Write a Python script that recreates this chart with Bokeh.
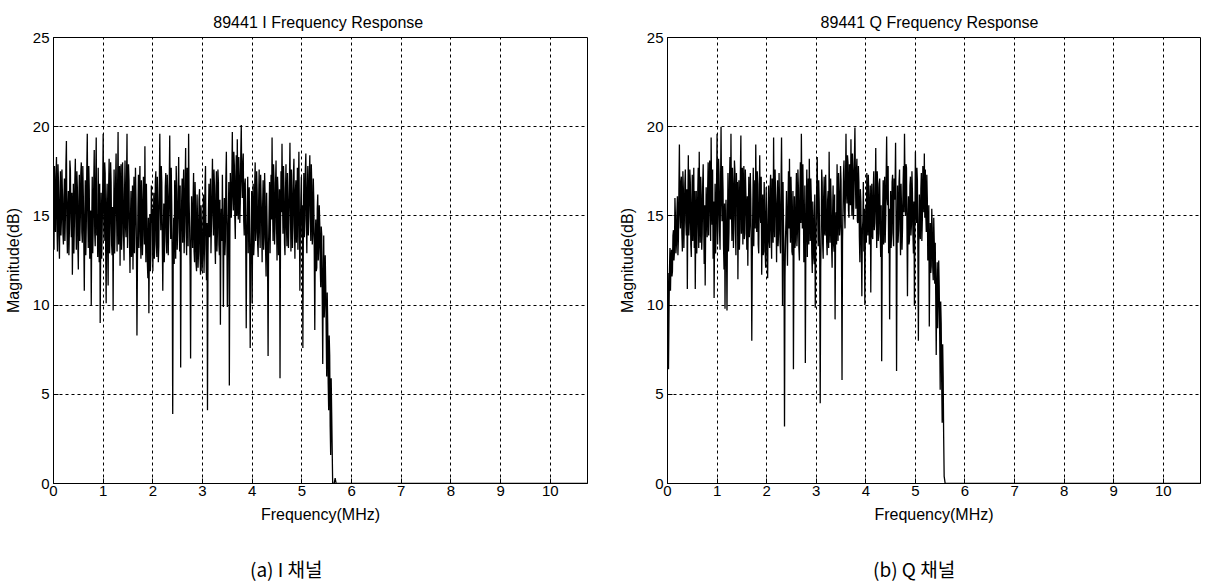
from bokeh.plotting import figure
from bokeh.layouts import row, column
from bokeh.models import Range1d, FixedTicker, Div, Spacer
from bokeh.embed import file_html
from bokeh.resources import INLINE

# ---------------- data ----------------
STEP_MHZ = 0.02  # spacing of the main samples; the "mid" samples lie half-way between

i_mag_db = [
    15.2, 17.8, 14.1, 18.3, 13.0, 16.9, 12.6, 17.5, 14.8, 16.2,
    13.4, 17.1, 15.0, 19.2, 12.9, 16.4, 14.2, 17.6, 13.8, 11.7,
    16.8, 14.5, 18.2, 13.1, 16.6, 12.0, 17.3, 14.9, 18.0, 13.5,
    16.2, 10.8, 17.0, 14.4, 19.6, 13.2, 16.5, 14.0, 10.0, 17.2,
    14.6, 18.7, 13.3, 19.4, 15.1, 17.7, 12.4, 9.0, 16.3, 14.2,
    19.6, 13.6, 17.4, 10.1, 16.8, 11.1, 18.2, 14.5, 16.9, 12.8,
    9.7, 17.6, 14.3, 18.5, 13.0, 19.7, 15.6, 12.2, 17.9, 14.0,
    16.6, 12.5, 18.1, 13.8, 19.6, 14.9, 17.0, 11.8, 16.4, 13.5,
    12.0, 17.2, 14.8, 16.0, 8.3, 15.5, 13.2, 17.8, 12.6, 15.9,
    13.9, 16.5, 18.9, 12.4, 14.7, 11.5, 9.55, 15.1, 12.8, 14.6,
    11.9, 16.3, 13.4, 17.5, 12.7, 15.8, 13.3, 19.6, 14.2, 16.9,
    10.8, 15.7, 13.6, 17.4, 12.9, 16.1, 14.8, 19.5, 13.7, 15.6,
    3.9, 14.9, 17.0, 12.6, 16.4, 14.1, 18.3, 13.0, 6.5, 15.8,
    13.5, 17.6, 14.7, 18.8, 12.8, 16.9, 19.6, 14.4, 7.0, 16.1,
    13.2, 17.4, 12.4, 15.6, 11.9, 14.8, 13.0, 16.5, 11.7, 14.1,
    12.6, 16.2, 13.4, 17.8, 11.4, 4.1, 15.3, 13.8, 17.1, 14.6,
    18.2, 13.9, 16.7, 12.3, 17.5, 14.0, 16.9, 12.8, 8.9, 15.4,
    17.3, 9.9, 16.0, 13.6, 18.6, 9.9, 15.1, 5.5, 17.4, 14.9,
    19.7, 15.3, 17.9, 13.7, 18.4, 19.3, 14.8, 17.2, 15.7, 20.1,
    16.0, 18.5, 13.9, 17.1, 8.7, 15.5, 12.9, 16.6, 7.6, 14.2,
    10.1, 16.8, 13.5, 18.0, 14.1, 16.3, 12.7, 17.6, 13.2, 15.9,
    12.4, 17.0, 13.8, 16.1, 11.6, 14.5, 7.15, 15.2, 12.9, 17.3,
    19.4, 13.6, 16.9, 14.3, 18.1, 12.5, 16.4, 13.9, 5.9, 17.5,
    19.05, 14.0, 16.6, 12.8, 17.9, 13.3, 15.8, 14.7, 19.1, 13.0,
    16.3, 14.4, 18.2, 12.6, 17.0, 15.2, 13.1, 18.6, 10.8, 16.0,
    13.8, 7.6, 17.4, 14.9, 18.5, 12.9, 17.8, 15.3, 18.4, 13.6,
    16.7, 14.0, 15.9, 8.6, 14.8, 12.1, 16.2, 13.3, 14.6, 11.0,
    13.9, 6.7, 13.9, 10.2, 11.1, 6.0, 9.0, 4.1, 7.2, 1.6,
    4.0,
]
i_mid_db = [
    13.1, 15.6, 17.2, 14.5, 17.9, 13.8, 16.0, 13.9, 17.6, 14.0,
    16.0, 13.6, 17.9, 14.3, 15.5, 12.8, 18.1, 14.9, 16.3, 14.4,
    12.9, 17.0, 14.8, 17.5, 13.4, 15.8, 13.6, 17.4, 14.1, 17.8,
    13.7, 14.9, 12.8, 17.6, 15.0, 17.8, 12.6, 15.3, 14.4, 12.9,
    16.8, 14.0, 17.1, 13.9, 12.7, 14.6, 16.8, 13.5, 12.6, 16.4,
    15.4, 18.0, 13.2, 15.7, 13.3, 16.6, 12.9, 18.0, 13.4, 15.5,
    14.8, 12.9, 16.9, 15.1, 16.4, 13.4, 17.8, 16.1, 13.1, 18.0,
    14.0, 16.2, 14.4, 17.0, 13.2, 17.9, 13.6, 14.9, 12.7, 16.7,
    15.3, 12.9, 17.7, 13.1, 12.4, 17.3, 16.4, 14.0, 17.0, 12.8,
    17.2, 13.4, 14.6, 16.8, 12.3, 14.9, 13.3, 11.9, 16.7, 15.4,
    14.1, 12.6, 16.9, 13.6, 17.2, 12.4, 16.5, 15.9, 17.8, 13.6,
    13.9, 12.4, 16.6, 14.0, 17.3, 12.8, 16.9, 15.2, 17.7, 12.5,
    12.8, 12.3, 14.6, 17.8, 13.1, 16.2, 14.9, 16.7, 13.9, 17.1,
    15.9, 12.9, 16.8, 14.1, 17.7, 13.3, 15.8, 12.2, 13.6, 14.8,
    15.9, 13.0, 16.9, 12.3, 16.2, 12.1, 15.9, 12.8, 15.6, 11.9,
    14.9, 11.8, 16.7, 13.1, 14.6, 12.7, 16.8, 14.9, 12.9, 16.3,
    15.1, 17.6, 13.5, 16.2, 13.0, 17.6, 13.4, 15.9, 14.3, 13.6,
    14.1, 14.3, 12.8, 17.1, 14.5, 13.8, 16.9, 13.6, 15.5, 17.1,
    16.2, 18.6, 14.9, 17.2, 15.0, 16.0, 18.3, 14.6, 18.5, 17.0,
    17.9, 14.7, 16.8, 13.5, 13.9, 17.2, 16.0, 13.1, 12.4, 16.4,
    14.9, 12.8, 16.6, 13.6, 17.5, 13.4, 15.8, 14.1, 17.3, 14.6,
    15.6, 13.1, 17.4, 13.0, 16.3, 12.2, 13.4, 16.9, 15.4, 14.8,
    15.8, 17.9, 13.4, 16.8, 14.6, 17.2, 12.8, 16.5, 14.1, 15.2,
    16.1, 17.8, 13.5, 16.2, 14.4, 17.4, 13.2, 17.0, 15.3, 17.6,
    13.2, 17.3, 14.5, 16.4, 13.5, 17.7, 16.2, 14.8, 14.4, 17.2,
    15.6, 14.2, 13.8, 17.6, 14.7, 16.4, 13.9, 17.3, 14.9, 17.9,
    13.4, 17.1, 12.8, 13.7, 11.9, 15.4, 12.5, 15.6, 12.1, 14.4,
    10.4, 11.6, 9.3, 12.8, 8.4, 10.7, 5.6, 8.3, 3.2, 5.9,
]
i_tail_mhz = [5.62, 5.65, 5.67, 5.69, 10.75]
i_tail_db = [0.0, 0.0, 0.3, 0.0, 0.0]

q_mag_db = [
    10.2, 6.4, 12.0, 10.8, 13.1, 11.9, 14.2, 12.95, 15.0, 13.4,
    16.1, 13.7, 19.0, 14.3, 17.2, 13.0, 16.5, 14.8, 17.6, 13.9,
    10.9, 18.4, 14.6, 16.9, 12.7, 17.3, 15.1, 13.2, 10.9, 16.4,
    14.4, 17.7, 18.6, 13.5, 16.2, 14.0, 17.9, 12.3, 11.1, 16.6,
    13.8, 18.0, 15.4, 17.1, 19.4, 14.5, 12.6, 10.4, 16.8, 14.2,
    19.6, 15.0, 17.3, 13.1, 20.0, 14.7, 16.5, 12.0, 9.8, 15.9,
    9.7, 17.4, 14.1, 18.3, 19.6, 13.6, 16.8, 14.9, 17.5, 12.8,
    15.7, 11.45, 17.0, 14.2, 19.5, 15.6, 13.4, 17.8, 14.0, 16.3,
    13.1, 12.2, 17.2, 14.5, 16.0, 8.0, 15.4, 13.3, 17.0, 19.0,
    14.1, 16.8, 12.9, 18.4, 14.6, 11.7, 16.2, 13.0, 15.3, 12.1,
    14.8, 11.5, 16.7, 13.2, 17.3, 12.6, 15.9, 19.4, 13.8, 16.2,
    12.4, 17.0, 14.0, 15.8, 12.9, 19.4, 10.0, 14.5, 3.2, 13.7,
    16.4, 12.2, 17.5, 18.2, 13.5, 15.9, 12.8, 6.4, 16.1, 13.6,
    17.4, 14.1, 16.6, 12.5, 18.0, 19.6, 14.3, 15.8, 13.0, 6.75,
    15.6, 12.7, 17.1, 18.2, 13.6, 16.0, 11.8, 14.9, 12.3, 9.85,
    14.6, 18.3, 13.3, 15.8, 4.5, 14.2, 16.9, 12.6, 17.2, 13.9,
    15.8, 12.8, 16.4, 18.6, 13.5, 15.9, 12.1, 16.7, 13.0, 9.2,
    15.2, 17.9, 13.6, 16.3, 14.4, 17.0, 5.8, 15.5, 18.1, 14.3,
    19.6, 15.7, 18.0, 14.9, 17.3, 19.3, 15.0, 17.6, 16.1, 19.95,
    15.4, 18.2, 14.6, 16.9, 12.4, 15.8, 10.5, 14.7, 13.0, 10.0,
    15.6, 17.4, 13.9, 16.2, 14.4, 10.7, 16.8, 13.7, 17.5, 14.6,
    18.8, 13.2, 16.6, 14.0, 17.1, 12.7, 6.85, 15.3, 13.4, 17.2,
    14.8, 19.45, 15.6, 12.9, 9.2, 16.4, 14.1, 17.3, 13.3, 15.9,
    19.1, 6.3, 16.7, 14.2, 17.6, 12.8, 15.5, 14.3, 17.8, 19.6,
    15.0, 17.7, 10.5, 16.1, 13.6, 17.2, 14.5, 16.3, 12.9, 10.0,
    18.6, 14.6, 17.0, 8.0, 16.2, 13.7, 17.4, 14.8, 16.9, 18.5,
    17.6, 14.1, 16.0, 13.0, 8.8, 14.6, 12.2, 14.3, 11.4, 13.6,
    13.5, 7.2, 12.4, 10.3, 11.1, 5.25, 9.0, 3.4, 6.0, 0.4,
]
q_mid_db = [
    11.8, 9.5, 13.2, 12.4, 11.6, 13.9, 12.5, 16.0, 12.9, 15.2,
    12.8, 16.4, 15.2, 16.9, 14.0, 17.5, 13.2, 16.8, 14.6, 16.5,
    15.3, 13.9, 17.6, 13.4, 15.8, 13.6, 17.7, 16.4, 14.2, 12.9,
    16.3, 13.2, 15.4, 17.2, 13.1, 16.8, 14.8, 15.6, 14.2, 15.0,
    16.5, 13.9, 18.1, 13.6, 16.2, 17.6, 15.8, 14.0, 12.9, 16.9,
    13.4, 18.2, 14.1, 16.6, 16.1, 17.8, 13.3, 15.7, 13.8, 13.1,
    14.6, 13.0, 16.9, 14.8, 15.5, 17.7, 13.2, 18.1, 14.2, 17.4,
    16.9, 14.8, 13.1, 17.4, 14.0, 17.7, 16.2, 13.7, 17.6, 15.0,
    16.1, 14.9, 13.8, 17.4, 13.1, 12.6, 17.7, 15.6, 14.3, 16.0,
    17.5, 13.4, 15.9, 15.1, 17.2, 14.3, 12.8, 16.9, 13.0, 16.6,
    12.9, 15.3, 13.6, 16.5, 14.1, 17.1, 13.5, 15.2, 17.6, 14.9,
    15.7, 13.3, 17.4, 13.5, 16.8, 15.6, 16.9, 12.8, 11.6, 14.9,
    13.8, 15.6, 14.3, 15.0, 17.2, 13.0, 16.4, 12.9, 13.2, 15.8,
    13.3, 17.6, 13.2, 16.4, 14.6, 16.1, 17.9, 12.4, 16.7, 13.2,
    17.6, 15.3, 13.4, 15.5, 17.1, 12.9, 15.8, 12.6, 16.2, 13.1,
    16.7, 14.9, 17.0, 12.7, 12.1, 17.6, 13.4, 16.1, 14.0, 17.3,
    13.6, 15.9, 13.2, 15.4, 17.1, 13.3, 15.1, 13.4, 16.2, 13.8,
    13.4, 15.3, 17.4, 13.9, 17.8, 12.8, 13.6, 17.4, 15.2, 16.8,
    16.4, 18.4, 15.3, 17.9, 15.6, 16.7, 18.5, 14.8, 18.2, 17.1,
    17.4, 14.7, 17.8, 13.8, 16.5, 13.2, 14.2, 16.9, 15.4, 13.6,
    13.5, 15.0, 17.3, 13.4, 16.7, 14.9, 13.9, 16.5, 14.2, 16.0,
    15.4, 17.5, 13.6, 16.8, 14.2, 15.6, 12.7, 17.0, 15.9, 13.5,
    17.2, 16.0, 17.8, 15.4, 13.9, 13.2, 16.9, 14.0, 17.1, 16.6,
    14.9, 13.4, 13.5, 16.9, 14.5, 16.8, 13.1, 16.6, 15.2, 17.0,
    17.9, 14.3, 14.6, 13.4, 16.7, 13.9, 17.5, 14.0, 15.8, 14.7,
    15.6, 17.7, 13.1, 13.9, 14.1, 16.5, 13.6, 17.8, 15.2, 14.9,
    15.0, 17.3, 12.5, 15.6, 12.3, 11.8, 15.4, 12.1, 14.9, 11.2,
    10.6, 11.1, 8.7, 12.5, 8.3, 10.2, 5.7, 7.8, 2.6, 0.2,
]
q_tail_mhz = [5.60, 10.75]
q_tail_db = [0.0, 0.0]

x_ticks = [0, 1, 2, 3, 4, 5, 6, 7, 8, 9, 10]
y_ticks = [0, 5, 10, 15, 20, 25]

titles = ["89441  I Frequency Response", "89441   Q Frequency Response"]
captions = ["(a) I 채널", "(b) Q 채널"]
x_label = "Frequency(MHz)"
y_label = "Magnitude(dB)"

FONT = "Liberation Sans"
CJK_FONT = "Noto Sans CJK KR"
FIG_H = 555


def series(mains, mids, tail_f, tail_db):
    mags = []
    for k, m in enumerate(mains):
        mags.append(m)
        if k < len(mids):
            mags.append(mids[k])
    f = [round(j * STEP_MHZ / 2, 4) for j in range(len(mags))] + list(tail_f)
    return f, mags + list(tail_db)


def make_panel(freq, mag, title, width, borders):
    left, right, top, bottom = borders
    p = figure(width=width, height=FIG_H, output_backend="svg", toolbar_location=None,
               x_range=Range1d(0, 10.75), y_range=Range1d(0, 25),
               min_border_left=left, min_border_right=right,
               min_border_top=top, min_border_bottom=bottom,
               background_fill_color="white", border_fill_color="white")
    p.title.text = title
    p.title.align = "center"
    p.title.text_font = FONT
    p.title.text_font_size = "16px"
    p.title.text_font_style = "normal"
    p.title.text_color = "black"
    p.title.standoff = 14

    p.line(freq, mag, line_color="black", line_width=1.3)

    for ax in (p.xaxis[0], p.yaxis[0]):
        ax.major_tick_in = 5
        ax.major_tick_out = 0
        ax.minor_tick_line_color = None
        ax.axis_line_color = "black"
        ax.major_tick_line_color = "black"
        ax.major_label_text_font = FONT
        ax.major_label_text_font_size = "15px"
        ax.major_label_text_color = "black"
        ax.axis_label_text_font = FONT
        ax.axis_label_text_font_size = "16px"
        ax.axis_label_text_font_style = "normal"
        ax.axis_label_text_color = "black"
    p.xaxis.ticker = FixedTicker(ticks=x_ticks)
    p.yaxis.ticker = FixedTicker(ticks=y_ticks)
    p.xaxis.axis_label = x_label
    p.yaxis.axis_label = y_label
    p.xaxis.major_label_standoff = 2
    p.yaxis.major_label_standoff = 4
    p.xaxis.axis_label_standoff = 7
    p.yaxis.axis_label_standoff = 8

    p.grid.grid_line_color = "black"
    p.grid.grid_line_dash = "3 3"
    p.grid.grid_line_width = 1
    p.outline_line_color = "black"
    p.outline_line_width = 1
    p.outline_line_alpha = 1.0
    return p


fi, mi = series(i_mag_db, i_mid_db, i_tail_mhz, i_tail_db)
fq, mq = series(q_mag_db, q_mid_db, q_tail_mhz, q_tail_db)

p1 = make_panel(fi, mi, titles[0], 605, (53, 18, 37, 72))
p2 = make_panel(fq, mq, titles[1], 600, (62, 5, 37, 72))

cap_style = {"font-family": CJK_FONT, "font-size": "19px", "color": "black",
             "white-space": "nowrap"}
cap1 = Div(text=captions[0], width=623, height=29, margin=(0, 0, 0, 0), styles=cap_style)
cap2 = Div(text=captions[1], width=300, height=29, margin=(0, 0, 0, 0), styles=cap_style)
caps = row(Spacer(width=250, height=29, margin=(0, 0, 0, 0)), cap1, cap2)

layout = column(row(p1, p2), caps)
open("out.html", "w").write(file_html(layout, INLINE))
